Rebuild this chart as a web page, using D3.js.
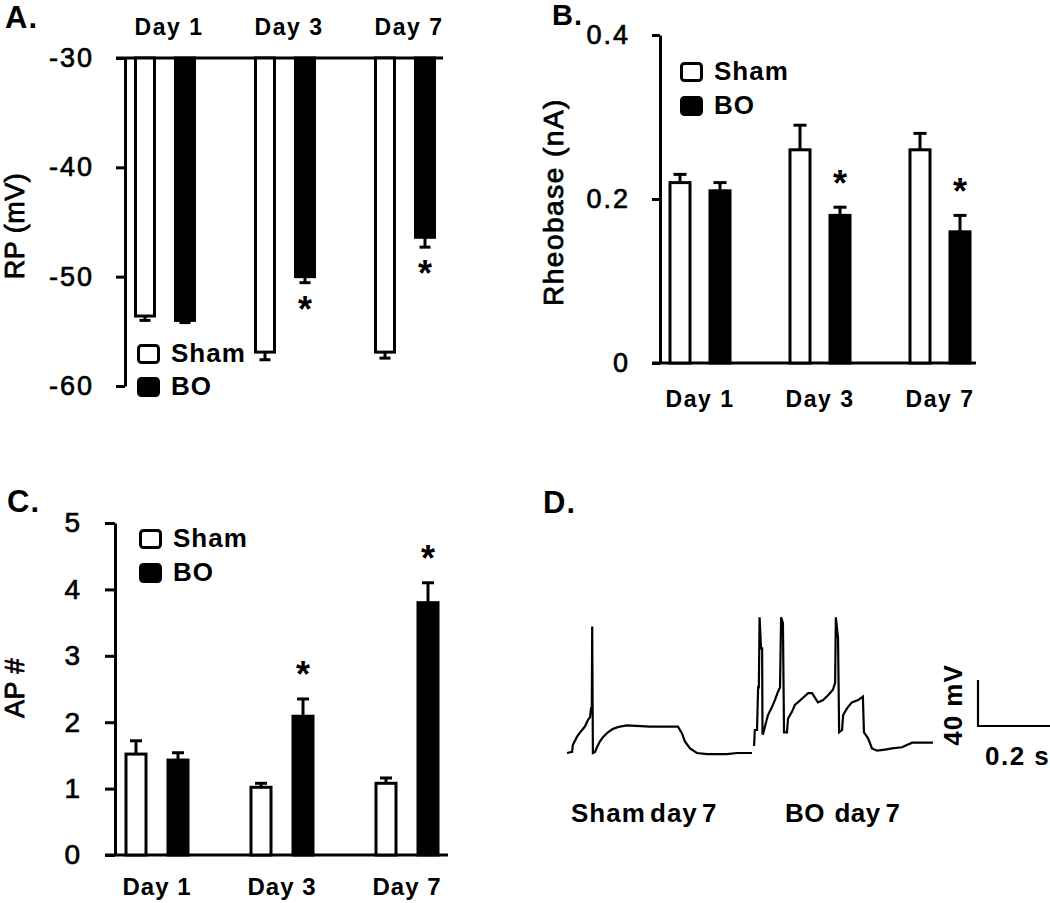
<!DOCTYPE html>
<html><head><meta charset="utf-8">
<script src="https://cdn.jsdelivr.net/npm/d3@7"></script>
<style>
html,body{margin:0;padding:0;background:#fff;}
svg{display:block;font-family:"Liberation Sans",Arial,sans-serif;}
</style></head><body>
<svg id="chart" width="1050" height="903"></svg>
<script>
// ---------- data ----------
const days = ["Day 1", "Day 3", "Day 7"];
const groups = ["Sham", "BO"];

// Panel A: resting potential RP (mV)
const rpSham = [-53.6, -56.9, -56.9];
const rpShamErr = [0.4, 0.7, 0.55];
const rpBO = [-54.0, -50.0, -46.4];
const rpBOErr = [0.2, 0.55, 0.9];
const rpSig = [false, true, true];
const rpTicks = [-30, -40, -50, -60];

// Panel B: rheobase (nA)
const rhSham = [0.22, 0.26, 0.26];
const rhShamErr = [0.01, 0.03, 0.02];
const rhBO = [0.21, 0.18, 0.16];
const rhBOErr = [0.01, 0.01, 0.02];
const rhSig = [false, true, true];
const rhTicks = [0, 0.2, 0.4];

// Panel C: AP number
const apSham = [1.52, 1.02, 1.08];
const apShamErr = [0.2, 0.06, 0.08];
const apBO = [1.43, 2.09, 3.8];
const apBOErr = [0.11, 0.26, 0.3];
const apSig = [false, true, true];
const apTicks = [0, 1, 2, 3, 4, 5];

// Panel D: example traces [time ms, membrane potential mV]
const shamTrace = [[0,-60],[14,-59],[16,-53],[27,-46],[36,-42],[49,-37],[58,-31],[63,-29],[66,-21],[68,-20],[69,50],[71,-60],[77,-59],[82,-55],[90,-50],[99,-46],[112,-42],[126,-39],[145,-37],[164,-36],[227,-37],[304,-37],[315,-43],[323,-50],[337,-56],[356,-60],[384,-61],[438,-61],[466,-60],[507,-60]];
const boTrace = [[0,-53],[3,-53],[5,-40],[11,-40],[14,-3],[16,-3],[18,58],[22,31],[25,31],[26,-42],[27,-44],[36,-33],[41,-27],[52,-20],[60,-14],[68,-7],[74,-3],[77,58],[82,53],[85,-42],[93,-42],[96,-30],[107,-24],[115,-18],[123,-16],[137,-12],[151,-8],[162,-8],[170,-12],[178,-16],[192,-14],[205,-10],[219,-5],[225,1],[227,58],[233,40],[236,-42],[244,-40],[247,-27],[258,-21],[271,-16],[288,-14],[301,-11],[304,-42],[315,-47],[326,-56],[340,-58],[362,-57],[381,-56],[408,-55],[436,-51],[493,-51]];
const scaleBarTime = 200;   // ms
const scaleBarVolt = 40;    // mV

// ---------- drawing ----------
const svg = d3.select("#chart");
const FONT = '"Liberation Sans", Arial, sans-serif';
const SW = 3;

function thicken(sel, w) {
  return sel.attr("stroke", "#000").attr("stroke-width", w).attr("paint-order", "stroke");
}

function styleAxis(g, fs, ls) {
  g.attr("font-family", FONT).attr("font-size", fs);
  g.select(".domain").attr("stroke", "#000").attr("stroke-width", SW);
  g.selectAll(".tick line").attr("stroke", "#000").attr("stroke-width", SW);
  const t = g.selectAll(".tick text").attr("fill", "#000").style("letter-spacing", ls + "px");
  thicken(t, 0.7);
}

function panelText(x, y, txt, size, weight) {
  return svg.append("text").attr("x", x).attr("y", y).text(txt)
    .attr("font-family", FONT).attr("font-size", size).attr("font-weight", weight || "bold")
    .attr("fill", "#000");
}

function drawBars(cfg) {
  const {x, y, sham, shamErr, bo, boErr, sig, base, half, bw, errDir, starOff, capW} = cfg;
  const rows = days.map((d, i) => [
    {day: d, g: "Sham", v: sham[i], e: shamErr[i], sig: false},
    {day: d, g: "BO", v: bo[i], e: boErr[i], sig: sig[i]}
  ]).flat();
  const cx = d => x(d.day) + x.bandwidth() / 2 + (d.g === "Sham" ? -half : half);
  const gb = svg.append("g");
  gb.selectAll("rect.bar").data(rows).enter().append("rect")
    .attr("x", d => cx(d) - bw / 2 + SW / 2)
    .attr("width", bw - SW)
    .attr("y", d => Math.min(y(base), y(d.v)))
    .attr("height", d => Math.abs(y(d.v) - y(base)))
    .attr("fill", d => d.g === "Sham" ? "#fff" : "#000")
    .attr("stroke", "#000").attr("stroke-width", SW);
  const eEnd = d => y(d.v + errDir * d.e);
  gb.selectAll("line.err").data(rows).enter().append("line")
    .attr("x1", cx).attr("x2", cx)
    .attr("y1", d => y(d.v)).attr("y2", eEnd)
    .attr("stroke", "#000").attr("stroke-width", SW);
  gb.selectAll("line.cap").data(rows).enter().append("line")
    .attr("x1", d => cx(d) - capW / 2).attr("x2", d => cx(d) + capW / 2)
    .attr("y1", eEnd).attr("y2", eEnd)
    .attr("stroke", "#000").attr("stroke-width", SW);
  gb.selectAll("text.star").data(rows.filter(d => d.sig)).enter().append("text")
    .attr("x", cx).attr("y", d => eEnd(d) + starOff + 17)
    .attr("text-anchor", "middle")
    .attr("font-family", FONT).attr("font-size", 36).attr("font-weight", "bold")
    .text("*");
}

function legend(x0, y0, y1, fs) {
  const lg = svg.append("g");
  [["Sham", "#fff", y0], ["BO", "#000", y1]].forEach(([name, fill, yy]) => {
    lg.append("rect").attr("x", x0 + 1.5).attr("y", yy + 1.5).attr("width", 20).attr("height", 17)
      .attr("rx", 3).attr("fill", fill).attr("stroke", "#000").attr("stroke-width", SW);
    lg.append("text").attr("x", x0 + 34).attr("y", yy + 18).text(name)
      .attr("font-family", FONT).attr("font-size", fs).attr("font-weight", "bold")
      .style("letter-spacing", "1px");
  });
}

function yTitle(cx, cy, txt, fs, ls) {
  const t = svg.append("text").attr("transform", `translate(${cx},${cy}) rotate(-90)`)
    .attr("text-anchor", "middle").attr("dominant-baseline", "central")
    .attr("font-family", FONT).attr("font-size", fs).style("letter-spacing", ls + "px")
    .text(txt);
  thicken(t, 0.8);
}

// ===== Panel A =====
{
  const x = d3.scaleBand().domain(days).range([105, 465]).padding(0);
  const y = d3.scaleLinear().domain([-60, -30]).range([386, 58]);
  svg.append("line").attr("x1", 116).attr("x2", 443).attr("y1", y(-30)).attr("y2", y(-30))
    .attr("stroke", "#000").attr("stroke-width", SW);
  const ga = svg.append("g").attr("transform", "translate(125,0)")
    .call(d3.axisLeft(y).tickValues(rpTicks).tickFormat(d => String(d)).tickSize(9).tickSizeOuter(0).tickPadding(22));
  styleAxis(ga, 27, 2);
  const gt = svg.append("g").attr("transform", `translate(0,${y(-30)})`)
    .call(d3.axisTop(x).tickSize(0));
  gt.select(".domain").remove();
  gt.attr("font-family", FONT).attr("font-size", 23).attr("font-weight", "bold");
  gt.selectAll(".tick text").attr("y", -23).attr("dy", null).attr("dx", 4).attr("fill", "#000").style("letter-spacing", "1.5px");
  drawBars({x, y, sham: rpSham, shamErr: rpShamErr, bo: rpBO, boErr: rpBOErr, sig: rpSig,
    base: -30, half: 20, bw: 22, errDir: -1, starOff: 22, capW: 11});
  legend(137, 344, 377, 26);
  yTitle(15, 226, "RP (mV)", 27, 0.5);
  panelText(5, 28, "A.", 31).style("letter-spacing", "1px");
}

// ===== Panel B =====
{
  const x = d3.scaleBand().domain(days).range([640, 1000]).padding(0);
  const y = d3.scaleLinear().domain([0, 0.4]).range([363, 35]);
  svg.append("line").attr("x1", 652).attr("x2", 976).attr("y1", y(0)).attr("y2", y(0))
    .attr("stroke", "#000").attr("stroke-width", SW);
  const ga = svg.append("g").attr("transform", "translate(660,0)")
    .call(d3.axisLeft(y).tickValues(rhTicks).tickFormat(d => d === 0 ? "0" : d3.format(".1f")(d)).tickSize(8).tickSizeOuter(0).tickPadding(22));
  styleAxis(ga, 27, 2);
  const gx = svg.append("g").attr("transform", `translate(0,${y(0)})`)
    .call(d3.axisBottom(x).tickSize(0));
  gx.select(".domain").remove();
  gx.attr("font-family", FONT).attr("font-size", 23).attr("font-weight", "bold");
  gx.selectAll(".tick text").attr("y", 44).attr("dy", null).attr("fill", "#000").style("letter-spacing", "1.5px");
  drawBars({x, y, sham: rhSham, shamErr: rhShamErr, bo: rhBO, boErr: rhBOErr, sig: rhSig,
    base: 0, half: 20, bw: 23, errDir: 1, starOff: -28, capW: 13});
  legend(680, 62, 96, 26);
  yTitle(553, 202, "Rheobase (nA)", 28, 1.5);
  panelText(552, 25, "B.", 29).style("letter-spacing", "1px");
}

// ===== Panel C =====
{
  const x = d3.scaleBand().domain(days).range([94.5, 469.5]).padding(0);
  const y = d3.scaleLinear().domain([0, 5]).range([855, 523]);
  svg.append("line").attr("x1", 105).attr("x2", 448).attr("y1", y(0)).attr("y2", y(0))
    .attr("stroke", "#000").attr("stroke-width", SW);
  const ga = svg.append("g").attr("transform", "translate(115,0)")
    .call(d3.axisLeft(y).tickValues(apTicks).tickFormat(d => String(d)).tickSize(10).tickSizeOuter(0).tickPadding(23));
  styleAxis(ga, 28, 2);
  const gx = svg.append("g").attr("transform", `translate(0,${y(0)})`)
    .call(d3.axisBottom(x).tickSize(0));
  gx.select(".domain").remove();
  gx.attr("font-family", FONT).attr("font-size", 24).attr("font-weight", "bold");
  gx.selectAll(".tick text").attr("y", 40).attr("dy", null).attr("fill", "#000").style("letter-spacing", "1px");
  drawBars({x, y, sham: apSham, shamErr: apShamErr, bo: apBO, boErr: apBOErr, sig: apSig,
    base: 0, half: 21, bw: 23, errDir: 1, starOff: -29, capW: 12});
  legend(139, 529, 563, 26);
  yTitle(15, 688, "AP #", 27, 0.5);
  panelText(7, 512, "C.", 31).style("letter-spacing", "1px");
}

// ===== Panel D =====
{
  const xS = d3.scaleLinear().domain([0, 1000]).range([567, 932]);
  const xB = d3.scaleLinear().domain([0, 1000]).range([753, 1118]);
  const y = d3.scaleLinear().domain([-60, 40]).range([753, 638]);
  const lineS = d3.line().x(d => xS(d[0])).y(d => y(d[1]));
  const lineB = d3.line().x(d => xB(d[0])).y(d => y(d[1]));
  svg.append("path").attr("d", lineS(shamTrace)).attr("fill", "none").attr("stroke", "#000").attr("stroke-width", 2.2);
  svg.append("path").attr("d", lineB(boTrace)).attr("fill", "none").attr("stroke", "#000").attr("stroke-width", 2.2);
  const sbX = 978, sbY = 726;
  const sbW = xS(scaleBarTime) - xS(0);
  const sbH = y(-60) - y(-60 + scaleBarVolt);
  svg.append("path").attr("d", `M${sbX},${sbY - sbH}V${sbY}H${sbX + sbW}`)
    .attr("fill", "none").attr("stroke", "#000").attr("stroke-width", 2.2);
  svg.append("text").attr("transform", "translate(953,705) rotate(-90)")
    .attr("text-anchor", "middle").attr("dominant-baseline", "central")
    .attr("font-family", FONT).attr("font-size", 26).attr("font-weight", "bold")
    .style("letter-spacing", "1px").text(scaleBarVolt + " mV");
  panelText(985, 765, "0.2 s", 26).style("letter-spacing", "1.5px");
  panelText(571, 822, "Sham day 7", 26).style("letter-spacing", "1px").style("word-spacing", "-4px");
  panelText(785, 822, "BO  day 7", 26).style("white-space", "pre").style("letter-spacing", "0.5px").style("word-spacing", "-3px");
  panelText(543, 513, "D.", 31).style("letter-spacing", "1px");
}
</script>
</body></html>
